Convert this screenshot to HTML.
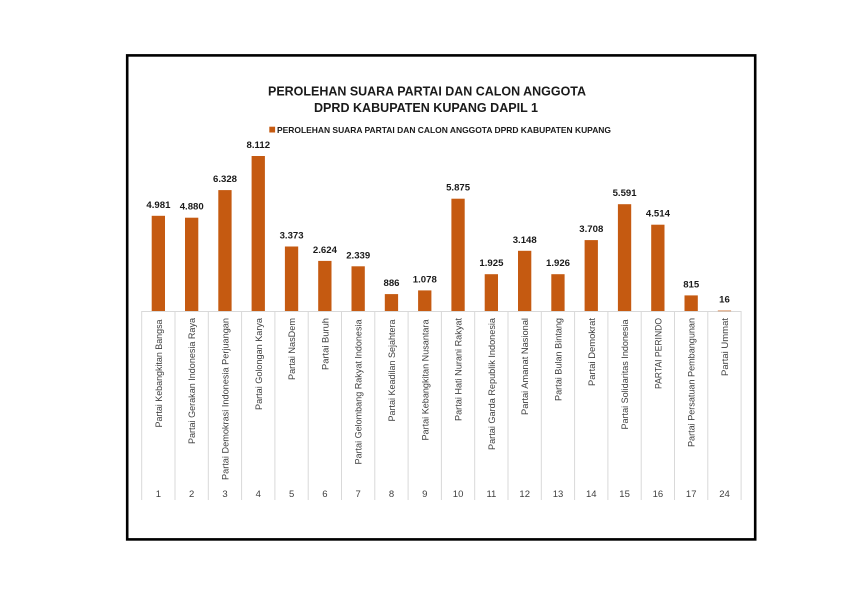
<!DOCTYPE html>
<html><head><meta charset="utf-8"><style>
html,body{margin:0;padding:0;background:#fff;}
svg{display:block;}
text{font-family:"Liberation Sans",Arial,sans-serif;}
</style></head><body>
<svg width="842" height="595" viewBox="0 0 842 595" xmlns="http://www.w3.org/2000/svg">
<rect x="0" y="0" width="842" height="595" fill="#fff"/>
<rect x="127.2" y="55.4" width="628" height="484" fill="#fff" stroke="#000" stroke-width="2.6"/>
<line x1="755.5" y1="56" x2="755.5" y2="540.5" stroke="#000" stroke-width="1"/>
<line x1="127" y1="540" x2="756" y2="540" stroke="#000" stroke-width="1"/>

<text x="427" y="95.5" text-anchor="middle" font-size="13" font-weight="bold" fill="#1a1a1a" textLength="318" lengthAdjust="spacingAndGlyphs">PEROLEHAN SUARA PARTAI DAN CALON ANGGOTA</text>
<text x="426" y="111.8" text-anchor="middle" font-size="13" font-weight="bold" fill="#1a1a1a" textLength="224" lengthAdjust="spacingAndGlyphs">DPRD KABUPATEN KUPANG DAPIL 1</text>
<rect x="269.3" y="126.7" width="5.8" height="5.8" fill="#C55A11"/>
<text x="277" y="133" font-size="8.4" font-weight="bold" fill="#1a1a1a" textLength="334" lengthAdjust="spacingAndGlyphs">PEROLEHAN SUARA PARTAI DAN CALON ANGGOTA DPRD KABUPATEN KUPANG</text>

<g stroke="#d9d9d9" stroke-width="1">
<line x1="141.7" y1="311.5" x2="741" y2="311.5"/>
<line x1="141.7" y1="311" x2="141.7" y2="500"/>
<line x1="175" y1="311" x2="175" y2="500"/>
<line x1="208.3" y1="311" x2="208.3" y2="500"/>
<line x1="241.6" y1="311" x2="241.6" y2="500"/>
<line x1="274.9" y1="311" x2="274.9" y2="500"/>
<line x1="308.2" y1="311" x2="308.2" y2="500"/>
<line x1="341.5" y1="311" x2="341.5" y2="500"/>
<line x1="374.8" y1="311" x2="374.8" y2="500"/>
<line x1="408.1" y1="311" x2="408.1" y2="500"/>
<line x1="441.4" y1="311" x2="441.4" y2="500"/>
<line x1="474.7" y1="311" x2="474.7" y2="500"/>
<line x1="508" y1="311" x2="508" y2="500"/>
<line x1="541.3" y1="311" x2="541.3" y2="500"/>
<line x1="574.6" y1="311" x2="574.6" y2="500"/>
<line x1="607.9" y1="311" x2="607.9" y2="500"/>
<line x1="641.2" y1="311" x2="641.2" y2="500"/>
<line x1="674.5" y1="311" x2="674.5" y2="500"/>
<line x1="707.8" y1="311" x2="707.8" y2="500"/>
<line x1="741.1" y1="311" x2="741.1" y2="500"/>
</g>

<g fill="#C55A11">
<rect x="151.7" y="215.8" width="13.3" height="95.2"/>
<rect x="185" y="217.7" width="13.3" height="93.3"/>
<rect x="218.3" y="190.1" width="13.3" height="120.9"/>
<rect x="251.6" y="156" width="13.3" height="155"/>
<rect x="284.9" y="246.5" width="13.3" height="64.5"/>
<rect x="318.2" y="260.9" width="13.3" height="50.1"/>
<rect x="351.5" y="266.3" width="13.3" height="44.7"/>
<rect x="384.8" y="294.1" width="13.3" height="16.9"/>
<rect x="418.1" y="290.4" width="13.3" height="20.6"/>
<rect x="451.4" y="198.7" width="13.3" height="112.3"/>
<rect x="484.7" y="274.2" width="13.3" height="36.8"/>
<rect x="518" y="250.8" width="13.3" height="60.2"/>
<rect x="551.3" y="274.2" width="13.3" height="36.8"/>
<rect x="584.6" y="240.1" width="13.3" height="70.9"/>
<rect x="617.9" y="204.2" width="13.3" height="106.8"/>
<rect x="651.2" y="224.7" width="13.3" height="86.3"/>
<rect x="684.5" y="295.4" width="13.3" height="15.6"/>
<rect x="717.8" y="310.6" width="13.3" height="0.6"/>
</g>

<g font-size="9.6" font-weight="bold" fill="#1a1a1a" text-anchor="middle">
<text x="158.4" y="207.8">4.981</text>
<text x="191.7" y="209.7">4.880</text>
<text x="225" y="182.1">6.328</text>
<text x="258.3" y="148">8.112</text>
<text x="291.6" y="238.5">3.373</text>
<text x="324.9" y="252.9">2.624</text>
<text x="358.2" y="258.3">2.339</text>
<text x="391.5" y="286.1">886</text>
<text x="424.8" y="282.4">1.078</text>
<text x="458.1" y="190.7">5.875</text>
<text x="491.4" y="266.2">1.925</text>
<text x="524.7" y="242.8">3.148</text>
<text x="558" y="266.2">1.926</text>
<text x="591.3" y="232.1">3.708</text>
<text x="624.6" y="196.2">5.591</text>
<text x="657.9" y="216.7">4.514</text>
<text x="691.2" y="287.4">815</text>
<text x="724.5" y="302.7">16</text>
</g>

<g font-size="9" fill="#404040" text-anchor="end">
<text transform="translate(161.9,319.5) rotate(-90)" textLength="108" lengthAdjust="spacingAndGlyphs">Partai Kebangkitan Bangsa</text>
<text transform="translate(195.2,318) rotate(-90)" textLength="126" lengthAdjust="spacingAndGlyphs">Partai Gerakan Indonesia Raya</text>
<text transform="translate(228.5,318) rotate(-90)" textLength="162" lengthAdjust="spacingAndGlyphs">Partai Demokrasi Indonesia Perjuangan</text>
<text transform="translate(261.8,318) rotate(-90)" textLength="92" lengthAdjust="spacingAndGlyphs">Partai Golongan Karya</text>
<text transform="translate(295.1,318) rotate(-90)" textLength="62" lengthAdjust="spacingAndGlyphs">Partai NasDem</text>
<text transform="translate(328.4,318) rotate(-90)" textLength="52" lengthAdjust="spacingAndGlyphs">Partai Buruh</text>
<text transform="translate(361.7,319.5) rotate(-90)" textLength="145" lengthAdjust="spacingAndGlyphs">Partai Gelombang Rakyat Indonesia</text>
<text transform="translate(395,319.5) rotate(-90)" textLength="102" lengthAdjust="spacingAndGlyphs">Partai Keadilan Sejahtera</text>
<text transform="translate(428.3,319.5) rotate(-90)" textLength="121" lengthAdjust="spacingAndGlyphs">Partai Kebangkitan Nusantara</text>
<text transform="translate(461.6,318) rotate(-90)" textLength="103" lengthAdjust="spacingAndGlyphs">Partai Hati Nurani Rakyat</text>
<text transform="translate(494.9,318) rotate(-90)" textLength="132" lengthAdjust="spacingAndGlyphs">Partai Garda Republik Indonesia</text>
<text transform="translate(528.2,318) rotate(-90)" textLength="97" lengthAdjust="spacingAndGlyphs">Partai Amanat Nasional</text>
<text transform="translate(561.5,318) rotate(-90)" textLength="83" lengthAdjust="spacingAndGlyphs">Partai Bulan Bintang</text>
<text transform="translate(594.8,318) rotate(-90)" textLength="68" lengthAdjust="spacingAndGlyphs">Partai Demokrat</text>
<text transform="translate(628.1,319.5) rotate(-90)" textLength="110" lengthAdjust="spacingAndGlyphs">Partai Solidaritas Indonesia</text>
<text transform="translate(661.4,318) rotate(-90)" textLength="71" lengthAdjust="spacingAndGlyphs">PARTAI PERINDO</text>
<text transform="translate(694.7,318) rotate(-90)" textLength="129" lengthAdjust="spacingAndGlyphs">Partai Persatuan Pembangunan</text>
<text transform="translate(728,318) rotate(-90)" textLength="58" lengthAdjust="spacingAndGlyphs">Partai Ummat</text>
</g>

<g font-size="9.5" fill="#404040" text-anchor="middle">
<text x="158.4" y="497">1</text>
<text x="191.7" y="497">2</text>
<text x="225" y="497">3</text>
<text x="258.3" y="497">4</text>
<text x="291.6" y="497">5</text>
<text x="324.9" y="497">6</text>
<text x="358.2" y="497">7</text>
<text x="391.5" y="497">8</text>
<text x="424.8" y="497">9</text>
<text x="458.1" y="497">10</text>
<text x="491.4" y="497">11</text>
<text x="524.7" y="497">12</text>
<text x="558" y="497">13</text>
<text x="591.3" y="497">14</text>
<text x="624.6" y="497">15</text>
<text x="657.9" y="497">16</text>
<text x="691.2" y="497">17</text>
<text x="724.5" y="497">24</text>
</g>
</svg>
</body></html>
